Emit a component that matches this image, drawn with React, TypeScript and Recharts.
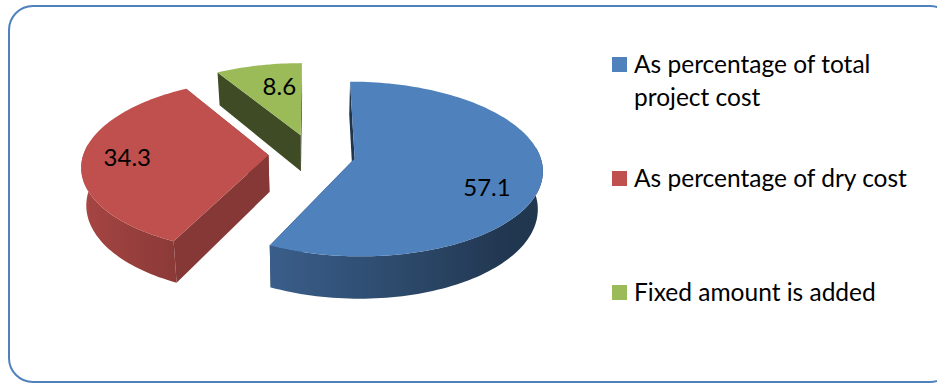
import { PieChart, Pie, Cell, Legend } from 'recharts';

const categories = ['As percentage of total project cost', 'As percentage of dry cost', 'Fixed amount is added'];
const values = [57.1, 34.3, 8.6];
const COLORS = ['#4f81bd', '#c0504d', '#9bbb59'];
// brightness of the radial cut faces, one per slice
const CUT_SHADE = [0.4, 0.7, 0.4];
// hand placed label tweaks in px
const LABEL_NUDGE = [[2, 14], [-11, -1], [9, 1]];

const chartData = categories.map((name, i) => ({ name, value: values[i] }));

const FONT = 'Lato, "Open Sans", sans-serif';
const SQUASH = 0.4595; // flattening of the disc
const PERSPECTIVE = 0.12; // back of the disc shrinks, front grows
const EXPLODE = 0.235; // slice offset as a fraction of the radius
const DEPTH = 37; // wall height in px
const TAPER = 0.022; // underside of the disc is a little narrower

const rad = (deg: number) => (deg * Math.PI) / 180;

// disc coordinates (u right, v towards the back) to screen
function project(cx: number, cy: number, r: number, u: number, v: number, drop = 0) {
  const w = 1 + PERSPECTIVE * v;
  return [cx + ((r * u) / w) * (1 - TAPER * drop), cy - (r * SQUASH * v) / w + (DEPTH * drop) / w];
}

function shade(hex: string, f: number) {
  const n = parseInt(hex.slice(1), 16);
  const ch = (s: number) => Math.round(((n >> s) & 255) * f);
  return `rgb(${ch(16)},${ch(8)},${ch(0)})`;
}

// walls get darker going from the left of the disc to the right
function wallLight(theta: number) {
  const t = Math.min(1, (Math.sin(rad(theta)) + 1) / 1.75);
  return 0.88 - 0.46 * t;
}

const toPoints = (pts: number[][]) => pts.map((p) => `${p[0].toFixed(2)},${p[1].toFixed(2)}`).join(' ');

function Slice3D(props: any) {
  const { cx, cy, outerRadius: r, startAngle, endAngle, fill, value } = props;
  const from = 90 - startAngle;
  const to = 90 - endAngle;
  const mid = (from + to) / 2;
  const du = EXPLODE * Math.sin(rad(mid));
  const dv = EXPLODE * Math.cos(rad(mid));
  const rim = (theta: number, drop = 0) =>
    project(cx, cy, r, du + Math.sin(rad(theta)), dv + Math.cos(rad(theta)), drop);
  const apex = (drop = 0) => project(cx, cy, r, du, dv, drop);

  const angles: number[] = [];
  for (let a = from; a < to; a += 1.5) angles.push(a);
  angles.push(to);

  const cutColor = shade(fill, CUT_SHADE[values.indexOf(value)]);
  const cut = (theta: number) => [apex(), rim(theta), rim(theta, 1), apex(1)];

  // only the front part of the rim gets a wall
  const front = angles.filter((a) => Math.cos(rad(a)) <= 0.15);
  const xs = front.map((a) => rim(a)[0]);
  const minX = Math.min(...xs);
  const maxX = Math.max(...xs);
  const stops = front
    .map((a) => ({ x: rim(a)[0], color: shade(fill, wallLight(a)) }))
    .sort((p, q) => p.x - q.x);
  const gradId = `wall-${fill.slice(1)}`;

  return (
    <g>
      <polygon points={toPoints(cut(from))} fill={cutColor} />
      <polygon points={toPoints(cut(to))} fill={cutColor} />
      {front.length > 1 && (
        <>
          <defs>
            <linearGradient id={gradId} gradientUnits="userSpaceOnUse" x1={minX} x2={maxX} y1={0} y2={0}>
              {stops.map((s, i) => (
                <stop key={i} offset={(s.x - minX) / (maxX - minX)} stopColor={s.color} />
              ))}
            </linearGradient>
          </defs>
          <polygon
            points={toPoints([...front.map((a) => rim(a)), ...[...front].reverse().map((a) => rim(a, 1))])}
            fill={`url(#${gradId})`}
          />
        </>
      )}
      <polygon points={toPoints([apex(), ...angles.map((a) => rim(a))])} fill={fill} />
    </g>
  );
}

function SliceLabel(props: any) {
  const { cx, cy, outerRadius: r, midAngle, value, index } = props;
  const mid = 90 - midAngle;
  const reach = EXPLODE + 0.7;
  const [x, y] = project(cx, cy, r, reach * Math.sin(rad(mid)), reach * Math.cos(rad(mid)));
  const [nx, ny] = LABEL_NUDGE[index];
  return (
    <text x={x + nx} y={y + ny} textAnchor="middle" dominantBaseline="central" fontFamily={FONT} fontSize={24} fill="#000">
      {Number(value).toFixed(1)}
    </text>
  );
}

function LegendList() {
  return (
    <div style={{ fontFamily: FONT, fontSize: 24.5, lineHeight: '33px', color: '#000' }}>
      {categories.map((name, i) => (
        <div key={name} style={{ position: 'relative', height: 114, paddingLeft: 22, width: 280 }}>
          <span
            style={{ position: 'absolute', left: 0, top: 10, width: 15, height: 15, background: COLORS[i] }}
          />
          {name}
        </div>
      ))}
    </div>
  );
}

export default function App() {
  return (
    <div style={{ position: 'absolute', left: 0, top: 0, width: 937, height: 383, overflow: 'hidden', background: '#fff' }}>
      {/* rounded outline round the whole chart, its right side runs off the page */}
      <div
        style={{
          position: 'absolute',
          left: 8,
          top: 5,
          width: 943,
          height: 374,
          border: '2.5px solid #4f81bd',
          borderRadius: 25,
        }}
      />
      <PieChart width={937} height={383} margin={{ top: 0, right: 0, bottom: 0, left: 0 }} style={{ position: 'absolute', left: 0, top: 0 }}>
        <Pie
          data={chartData}
          dataKey="value"
          nameKey="name"
          cx={312}
          cy={154}
          outerRadius={185}
          startAngle={90}
          endAngle={-270}
          isAnimationActive={false}
          shape={Slice3D}
          label={SliceLabel}
          labelLine={false}
          stroke="none"
        >
          {chartData.map((row, i) => (
            <Cell key={row.name} fill={COLORS[i]} />
          ))}
        </Pie>
        <Legend
          layout="vertical"
          content={LegendList}
          wrapperStyle={{ position: 'absolute', left: 612, top: 47, width: 320, bottom: 'auto', right: 'auto' }}
        />
      </PieChart>
    </div>
  );
}
